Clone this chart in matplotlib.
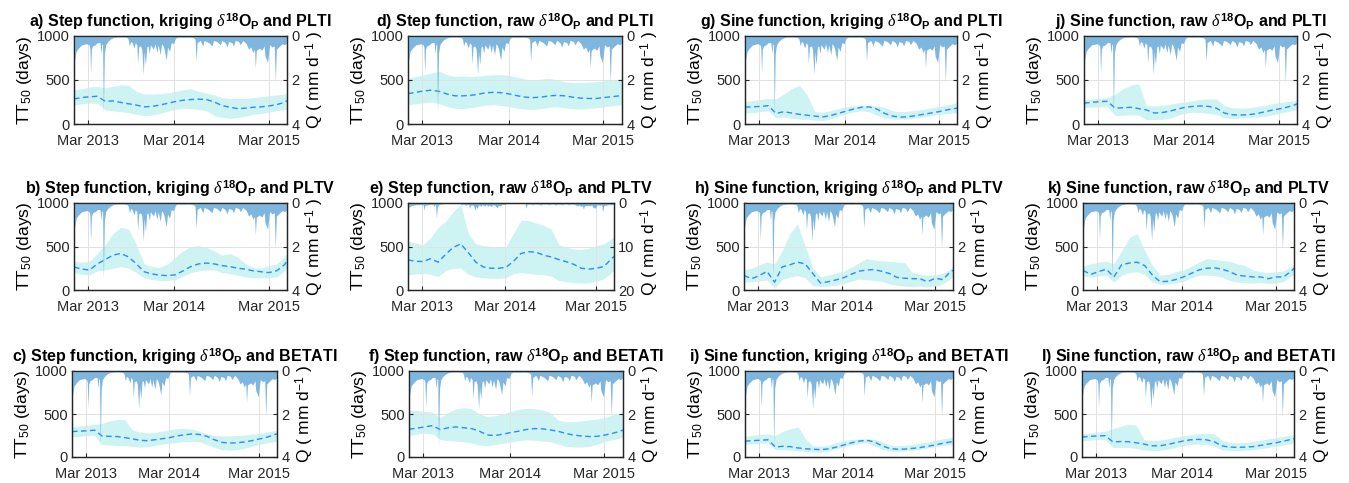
import numpy as np
import matplotlib
matplotlib.use("Agg")
import matplotlib.pyplot as plt

plt.rcParams['font.family'] = ['Liberation Sans', 'DejaVu Sans']
plt.rcParams['mathtext.fontset'] = 'custom'
plt.rcParams['mathtext.rm'] = 'Liberation Sans'
plt.rcParams['mathtext.it'] = 'Liberation Serif:italic'
plt.rcParams['mathtext.bf'] = 'Liberation Sans:bold'

# ---- data ----
# x axis: days along the record, ticks placed where the labels sit
tick_pos = [55, 386, 749]
tick_lab = ['Mar 2013', 'Mar 2014', 'Mar 2015']

# discharge Q (mm/d)
q_day = [0, 4, 8, 17, 30, 49, 58, 61, 64, 67, 72, 81, 90, 100, 104, 107, 110, 113, 117, 122,
         130, 139, 150, 164, 185, 203, 209, 213, 218, 224, 231, 236, 242, 245, 249, 256, 261,
         267, 270, 275, 280, 285, 290, 294, 300, 306, 312, 319, 324, 332, 337, 343, 347, 355,
         360, 368, 374, 383, 391, 400, 421, 445, 460, 466, 470, 474, 486, 496, 501, 518, 531,
         537, 550, 563, 569, 582, 589, 595, 608, 614, 621, 634, 640, 650, 663, 672, 681, 689,
         695, 698, 702, 714, 723, 732, 735, 745, 753, 763, 771, 775, 779, 792, 802, 811, 820]
q_val = [1.2, 1.0, 0.7, 0.55, 0.4, 0.35, 0.4, 0.5, 1.7, 0.6, 0.45, 0.4, 0.3, 0.3, 0.8, 0.35,
         0.4, 3.5, 0.8, 0.4, 0.25, 0.15, 0.08, 0.05, 0.04, 0.06, 0.15, 0.45, 0.25, 0.3, 0.55,
         0.3, 0.4, 1.25, 0.5, 0.45, 0.6, 1.75, 0.7, 1.3, 0.5, 0.45, 0.8, 0.4, 0.5, 0.6, 0.35,
         0.75, 0.4, 0.85, 0.35, 0.45, 0.6, 1.1, 0.5, 0.7, 0.3, 0.35, 0.1, 0.05, 0.06, 0.05,
         0.08, 0.15, 1.15, 0.3, 0.2, 0.45, 0.2, 0.3, 0.45, 0.2, 0.25, 0.4, 0.2, 0.3, 0.5, 0.25,
         0.3, 0.45, 0.2, 0.25, 0.4, 0.2, 0.35, 0.6, 0.5, 0.75, 0.6, 1.45, 0.65, 0.55, 0.65,
         0.45, 0.9, 1.2, 0.4, 0.5, 0.45, 2.1, 0.6, 0.45, 0.35, 0.4, 0.3]

# TT50 (days) median and 5-95 band
tt_day = [0, 30, 60, 90, 120, 150, 180, 210, 240, 270, 300, 330, 360, 390, 420, 450, 480,
          510, 540, 570, 600, 630, 660, 690, 720, 750, 780, 810, 820]

med_a = [285, 300, 310, 315, 258, 262, 245, 230, 215, 195, 200, 215, 235, 255, 270, 278, 282, 278, 250, 210, 190, 175, 180, 190, 195, 205, 220, 245, 265]
up_a = [390, 400, 420, 430, 410, 430, 445, 440, 370, 340, 340, 345, 355, 370, 390, 400, 370, 350, 330, 300, 290, 290, 290, 300, 310, 320, 330, 340, 345]
lo_a = [215, 230, 240, 235, 160, 150, 140, 130, 110, 95, 100, 120, 145, 165, 180, 175, 165, 150, 95, 75, 65, 75, 90, 110, 120, 135, 150, 165, 168]

med_b = [265, 240, 230, 300, 350, 400, 420, 380, 300, 210, 185, 170, 165, 175, 220, 270, 300, 310, 300, 280, 270, 250, 240, 220, 210, 200, 220, 290, 330]
up_b = [330, 320, 330, 420, 520, 650, 720, 700, 520, 300, 270, 260, 300, 380, 450, 500, 510, 490, 450, 400, 420, 380, 300, 260, 250, 280, 300, 380, 420]
lo_b = [200, 180, 175, 220, 230, 250, 270, 250, 200, 140, 120, 110, 110, 120, 160, 200, 220, 230, 230, 200, 190, 170, 150, 140, 140, 140, 150, 220, 260]

med_c = [296, 300, 305, 312, 245, 240, 238, 225, 212, 195, 190, 200, 212, 225, 245, 258, 268, 262, 240, 200, 170, 162, 165, 175, 190, 210, 230, 260, 270]
up_c = [355, 360, 370, 380, 390, 420, 435, 435, 320, 290, 280, 285, 300, 315, 330, 335, 325, 300, 270, 250, 245, 245, 250, 255, 265, 275, 290, 305, 310]
lo_c = [235, 240, 250, 255, 145, 140, 135, 130, 125, 115, 118, 135, 150, 160, 170, 178, 180, 175, 145, 110, 85, 80, 85, 100, 125, 145, 165, 180, 185]

med_d = [345, 360, 375, 385, 370, 340, 320, 320, 325, 340, 355, 360, 355, 340, 320, 305, 300, 305, 320, 325, 320, 305, 295, 290, 290, 300, 310, 320, 325]
up_d = [520, 540, 560, 580, 600, 560, 540, 545, 540, 545, 555, 560, 560, 550, 530, 510, 500, 510, 520, 500, 480, 470, 470, 475, 480, 490, 500, 510, 515]
lo_d = [220, 230, 240, 250, 230, 200, 180, 175, 185, 200, 215, 220, 210, 195, 180, 170, 165, 175, 190, 195, 185, 175, 170, 175, 185, 195, 205, 215, 220]

med_e = [346, 330, 327, 360, 320, 410, 490, 530, 430, 320, 265, 250, 250, 260, 330, 420, 440, 435, 400, 380, 350, 325, 295, 250, 240, 250, 270, 360, 385]
up_e = [560, 540, 520, 600, 720, 790, 900, 980, 650, 530, 510, 500, 495, 500, 650, 800, 800, 770, 740, 700, 520, 490, 470, 465, 480, 510, 530, 590, 615]
lo_e = [175, 185, 190, 180, 155, 225, 250, 250, 180, 150, 140, 135, 135, 140, 190, 200, 190, 180, 175, 160, 110, 95, 85, 78, 80, 100, 130, 200, 230]

med_f = [323, 335, 350, 365, 318, 340, 350, 340, 330, 300, 255, 250, 265, 285, 300, 320, 330, 328, 315, 300, 275, 255, 245, 238, 240, 255, 275, 300, 315]
up_f = [545, 540, 530, 520, 455, 520, 560, 575, 560, 500, 470, 480, 500, 530, 555, 565, 560, 548, 520, 430, 410, 410, 420, 430, 440, 460, 490, 510, 515]
lo_f = [255, 265, 280, 270, 205, 190, 185, 180, 160, 140, 130, 145, 160, 175, 190, 200, 195, 185, 180, 150, 125, 118, 115, 125, 150, 180, 200, 220, 230]

med_g = [192, 195, 200, 208, 120, 140, 125, 110, 100, 90, 80, 95, 120, 145, 170, 190, 195, 170, 120, 90, 78, 82, 95, 110, 125, 140, 160, 175, 180]
up_g = [258, 265, 280, 290, 285, 340, 400, 440, 330, 140, 135, 150, 175, 195, 205, 210, 210, 205, 190, 150, 140, 145, 155, 165, 185, 200, 215, 235, 240]
lo_g = [125, 130, 140, 150, 70, 80, 65, 55, 55, 45, 40, 60, 90, 115, 135, 150, 140, 100, 70, 55, 55, 60, 70, 80, 95, 110, 120, 125, 130]

med_h = [167, 130, 165, 215, 90, 265, 290, 320, 300, 190, 80, 95, 115, 140, 180, 215, 230, 235, 215, 190, 145, 135, 130, 130, 95, 135, 120, 210, 225]
up_h = [235, 250, 290, 320, 300, 450, 650, 760, 500, 260, 150, 170, 195, 215, 260, 310, 360, 345, 335, 330, 320, 315, 200, 180, 170, 175, 190, 240, 280]
lo_h = [90, 95, 105, 115, 20, 120, 150, 165, 140, 50, 40, 45, 55, 75, 100, 125, 120, 110, 100, 70, 55, 45, 40, 45, 35, 40, 70, 130, 150]

med_i = [185, 190, 195, 200, 115, 125, 120, 105, 95, 90, 85, 95, 115, 140, 165, 185, 195, 175, 130, 100, 90, 92, 100, 110, 125, 140, 160, 175, 180]
up_i = [240, 250, 260, 270, 250, 300, 330, 350, 200, 130, 125, 140, 165, 190, 205, 210, 210, 205, 180, 140, 130, 135, 145, 160, 175, 195, 210, 225, 230]
lo_i = [150, 155, 160, 165, 85, 85, 80, 70, 65, 60, 55, 70, 95, 120, 140, 160, 165, 130, 90, 70, 65, 70, 80, 90, 105, 120, 135, 145, 150]

med_j = [238, 245, 255, 258, 180, 185, 190, 175, 160, 125, 130, 145, 170, 190, 200, 205, 200, 180, 125, 105, 102, 105, 115, 135, 155, 170, 190, 215, 230]
up_j = [275, 285, 290, 300, 340, 400, 440, 460, 210, 205, 210, 225, 240, 250, 265, 280, 285, 285, 210, 185, 180, 185, 195, 210, 225, 240, 255, 265, 275]
lo_j = [190, 192, 195, 195, 95, 100, 105, 100, 50, 50, 55, 65, 100, 125, 135, 130, 120, 110, 70, 65, 68, 72, 78, 85, 100, 120, 140, 155, 165]

med_k = [225, 180, 210, 240, 150, 290, 310, 320, 280, 170, 95, 100, 120, 150, 190, 230, 250, 255, 240, 210, 170, 160, 150, 150, 130, 150, 150, 220, 250]
up_k = [280, 300, 320, 330, 300, 450, 600, 650, 450, 280, 170, 180, 210, 230, 270, 320, 360, 350, 340, 330, 300, 280, 230, 210, 200, 210, 220, 270, 300]
lo_k = [160, 150, 160, 170, 90, 170, 200, 210, 180, 90, 65, 70, 80, 100, 140, 170, 170, 165, 150, 110, 90, 85, 80, 85, 75, 80, 100, 160, 180]

med_l = [232, 240, 245, 248, 175, 180, 178, 165, 150, 130, 130, 145, 165, 185, 200, 205, 200, 180, 130, 115, 112, 115, 120, 135, 150, 165, 185, 205, 215]
up_l = [270, 280, 290, 300, 330, 360, 380, 370, 200, 190, 195, 210, 230, 245, 258, 270, 275, 270, 200, 170, 165, 170, 180, 195, 210, 225, 240, 255, 260]
lo_l = [190, 195, 200, 205, 110, 110, 110, 100, 80, 75, 78, 90, 110, 130, 145, 150, 145, 130, 85, 75, 75, 78, 85, 95, 110, 125, 140, 155, 160]

iso = r'$\delta^{\mathbf{18}}\mathbf{O}_{\mathbf{P}}$'
panels = [
    ('a', 'Step function, kriging', 'PLTI', med_a, up_a, lo_a, 4),
    ('b', 'Step function, kriging', 'PLTV', med_b, up_b, lo_b, 4),
    ('c', 'Step function, kriging', 'BETATI', med_c, up_c, lo_c, 4),
    ('d', 'Step function, raw', 'PLTI', med_d, up_d, lo_d, 4),
    ('e', 'Step function, raw', 'PLTV', med_e, up_e, lo_e, 20),
    ('f', 'Step function, raw', 'BETATI', med_f, up_f, lo_f, 4),
    ('g', 'Sine function, kriging', 'PLTI', med_g, up_g, lo_g, 4),
    ('h', 'Sine function, kriging', 'PLTV', med_h, up_h, lo_h, 4),
    ('i', 'Sine function, kriging', 'BETATI', med_i, up_i, lo_i, 4),
    ('j', 'Sine function, raw', 'PLTI', med_j, up_j, lo_j, 4),
    ('k', 'Sine function, raw', 'PLTV', med_k, up_k, lo_k, 4),
    ('l', 'Sine function, raw', 'BETATI', med_l, up_l, lo_l, 4),
]

# axes boxes in pixels (left, top, right, bottom)
W, H = 1349, 483
boxes = {
    'a': (74, 36, 287, 124), 'd': (408, 36, 622, 124), 'g': (745, 36, 957, 124), 'j': (1084, 36, 1297, 124),
    'b': (74, 203, 287, 290), 'e': (408, 203, 614, 290), 'h': (744, 203, 953, 290), 'k': (1083, 203, 1294, 290),
    'c': (72, 371, 277, 457), 'f': (409, 371, 623, 457), 'i': (745, 371, 953, 457), 'l': (1082, 371, 1294, 457),
}

band_col = '#CDF3F2'
line_col = '#2A8CFF'
q_col = '#7FB6DE'
ax_col = '#262626'

fig = plt.figure(figsize=(W / 100, H / 100), dpi=100)

for key, name, model, med, up, lo, qmax in panels:
    l, t, r, b = boxes[key]
    ax = fig.add_axes([l / W, 1 - b / H, (r - l) / W, (b - t) / H])
    ax.fill_between(tt_day, lo, up, color=band_col, lw=0)
    ax.plot(tt_day, med, '--', color=line_col, lw=1.0, dashes=(4, 2.5))
    ax.set_xlim(0, 820)
    ax.set_ylim(0, 1000)
    ax.set_yticks([0, 500, 1000])
    ax.set_xticks(tick_pos)
    ax.set_xticklabels(tick_lab)
    ax.grid(True, color='#e2e2e2', lw=0.7)
    ax.tick_params(direction='in', length=3, labelsize=10.5, colors=ax_col, pad=3)
    ax.tick_params(axis='x', pad=7)
    ax.set_ylabel(r'TT$_{50}$ (days)', fontsize=12.5, color='black', labelpad=2)
    ax.set_title(key + ') ' + name + ' ' + iso + ' and ' + model,
                 fontsize=11.5, fontweight='bold', pad=6.5)
    for s in ax.spines.values():
        s.set_color(ax_col)
        s.set_linewidth(0.9)

    ax2 = ax.twinx()
    ax2.fill_between(q_day, 0, q_val, color=q_col, lw=0)
    ax2.set_ylim(qmax, 0)
    ax2.set_yticks([0, qmax / 2, qmax])
    ax2.set_yticklabels(['0', str(int(qmax / 2)), str(qmax)])
    ax2.tick_params(direction='in', length=3, labelsize=10.5, colors=ax_col, pad=3)
    ax2.set_ylabel(r'Q ( mm d$^{-1}$ )', fontsize=12.5, labelpad=3)
    for s in ax2.spines.values():
        s.set_color(ax_col)
        s.set_linewidth(0.9)

fig.savefig('out.png', dpi=100)
